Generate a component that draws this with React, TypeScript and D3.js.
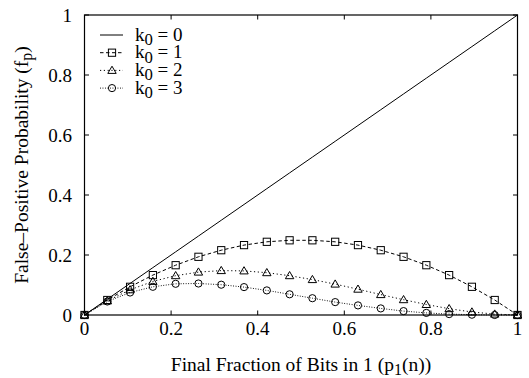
import React from "react";
import * as d3 from "d3";

const W = 529;
const H = 378;
const M = { left: 84.5, right: 529 - 517.5, top: 15, bottom: 378 - 315 };

const xVals = d3.range(20).map((i) => i / 19);
const k0Labels = ["0", "1", "2", "3"];
const seriesK0: number[] = xVals.slice();
const seriesK1 = [0, 0.05, 0.094, 0.133, 0.166, 0.194, 0.216, 0.233, 0.244, 0.249, 0.249, 0.244, 0.233, 0.216, 0.194, 0.166, 0.133, 0.094, 0.05, 0];
const seriesK2 = [0, 0.047, 0.084, 0.112, 0.131, 0.143, 0.148, 0.147, 0.141, 0.131, 0.118, 0.103, 0.086, 0.068, 0.051, 0.035, 0.021, 0.01, 0.003, 0];
const seriesK3 = [0, 0.045, 0.075, 0.094, 0.104, 0.105, 0.101, 0.093, 0.082, 0.069, 0.056, 0.043, 0.032, 0.022, 0.013, 0.007, 0.003, 0.001, 0.0, 0];
const xTicks = [0, 0.2, 0.4, 0.6, 0.8, 1];
const yTicks = [0, 0.2, 0.4, 0.6, 0.8, 1];

const FONT = "'Liberation Serif', 'Times New Roman', serif";
const FS = 19;
const FL = 19.5;

type Marker = "none" | "square" | "triangle" | "circle";
const series: { values: number[]; dash: string; marker: Marker }[] = [
  { values: seriesK0, dash: "none", marker: "none" },
  { values: seriesK1, dash: "3.5,2.5", marker: "square" },
  { values: seriesK2, dash: "1.2,2.6", marker: "triangle" },
  { values: seriesK3, dash: "0.9,1.6", marker: "circle" },
];

function MarkerShape({ type, x, y }: { type: Marker; x: number; y: number }) {
  const s = 3.6;
  if (type === "square")
    return <rect x={x - s} y={y - s} width={2 * s} height={2 * s} fill="none" stroke="#000" strokeWidth={1} />;
  if (type === "triangle")
    return (
      <path
        d={`M${x},${y - s - 0.6}L${x + s + 0.6},${y + s - 0.6}L${x - s - 0.6},${y + s - 0.6}Z`}
        fill="none"
        stroke="#000"
        strokeWidth={1}
      />
    );
  if (type === "circle") return <circle cx={x} cy={y} r={s} fill="none" stroke="#000" strokeWidth={1} />;
  return null;
}

export default function App() {
  const x = d3.scaleLinear().domain([0, 1]).range([M.left, W - M.right]);
  const y = d3.scaleLinear().domain([0, 1]).range([H - M.bottom, M.top]);
  const line = d3
    .line<number>()
    .x((_, i) => x(xVals[i]))
    .y((d) => y(d));
  const tl = 4.5;
  const x0 = x(0), x1 = x(1), y0 = y(0), y1 = y(1);

  return (
    <svg
      width={W}
      height={H}
      style={{ position: "absolute", left: 0, top: 0, background: "#fff" }}
      fontFamily={FONT}
      fontSize={FS}
    >
      <rect width={W} height={H} fill="#fff" />
      {/* ticks */}
      {xTicks.map((t) => (
        <g key={"xt" + t}>
          <line x1={x(t)} x2={x(t)} y1={y0} y2={y0 - tl} stroke="#000" />
          <line x1={x(t)} x2={x(t)} y1={y1} y2={y1 + tl} stroke="#000" />
          <text x={x(t)} y={335} textAnchor="middle">
            {String(t)}
          </text>
        </g>
      ))}
      {yTicks.map((t) => (
        <g key={"yt" + t}>
          <line x1={x0} x2={x0 + tl} y1={y(t)} y2={y(t)} stroke="#000" />
          <line x1={x1} x2={x1 - tl} y1={y(t)} y2={y(t)} stroke="#000" />
          <text x={72} y={y(t) + 6.5} textAnchor="end">
            {String(t)}
          </text>
        </g>
      ))}
      {/* series */}
      {series.map((s, si) => (
        <g key={"s" + si}>
          <path d={line(s.values) || ""} fill="none" stroke="#000" strokeWidth={1} strokeDasharray={s.dash} />
          {s.values.map((v, i) => (
            <MarkerShape key={i} type={s.marker} x={x(xVals[i])} y={y(v)} />
          ))}
        </g>
      ))}
      {/* border */}
      <rect x={x0} y={y1} width={x1 - x0} height={y0 - y1} fill="none" stroke="#000" strokeWidth={1.2} />
      {/* legend */}
      {series.map((s, si) => {
        const cy = 35 + si * 17.7;
        return (
          <g key={"lg" + si}>
            <line x1={100} x2={123} y1={cy} y2={cy} stroke="#000" strokeDasharray={s.dash} />
            <MarkerShape type={s.marker} x={112} y={cy} />
            <text x={135} y={cy + 5.5}>
              k
              <tspan dy={4.5} fontSize={FS * 0.88}>
                0
              </tspan>
              <tspan dy={-4.5}>{" = " + k0Labels[si]}</tspan>
            </text>
          </g>
        );
      })}
      {/* axis labels */}
      <text x={(x0 + x1) / 2} y={370.5} textAnchor="middle" fontSize={FL}>
        Final Fraction of Bits in 1 (p
        <tspan dy={4} fontSize={FL * 0.82}>
          1
        </tspan>
        <tspan dy={-4}>(n))</tspan>
      </text>
      <text transform={`translate(27.5,${(y0 + y1) / 2}) rotate(-90)`} textAnchor="middle" fontSize={FL}>
        False–Positive Probability (f
        <tspan dy={4} fontSize={FL * 0.82}>
          p
        </tspan>
        <tspan dy={-4}>)</tspan>
      </text>
    </svg>
  );
}
